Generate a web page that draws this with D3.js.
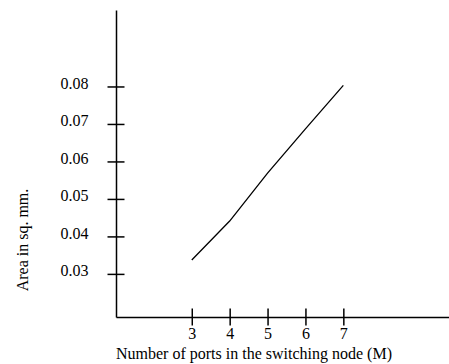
<!DOCTYPE html>
<html>
<head>
<meta charset="utf-8">
<script src="https://cdn.jsdelivr.net/npm/d3@7"></script>
<style>
  body { margin: 0; background: #fff; }
  svg { display: block; }
  svg text { font-family: "Liberation Serif", "Times New Roman", serif; }
</style>
</head>
<body>
<svg id="chart" width="449" height="364"></svg>
<script>
const ports = [3, 4, 5, 6, 7];
const area = [0.0337, 0.0441, 0.0569, 0.0687, 0.0803];
const yTicks = [0.03, 0.04, 0.05, 0.06, 0.07, 0.08];
const xTicks = [3, 4, 5, 6, 7];

const svg = d3.select("#chart");

const x = d3.scaleLinear().domain([1, 10]).range([116, 457]);
const y = d3.scaleLinear().domain([0.0185, 0.1004]).range([317, 10]);
const tick = 8.5;

// y axis
const gy = svg.append("g")
  .attr("transform", "translate(" + x(1) + ",0)")
  .call(d3.axisLeft(y).tickValues(yTicks).tickSizeInner(tick).tickSizeOuter(0)
    .tickFormat(d3.format(".2f")));
gy.selectAll("line").attr("x1", tick).attr("x2", -tick);
gy.selectAll("text")
  .attr("x", -27.5)
  .attr("dy", "0.1em")
  .style("font-size", "16px")
  .attr("fill", "#000");

// x axis
const gx = svg.append("g")
  .attr("transform", "translate(0," + y(0.0185) + ")")
  .call(d3.axisBottom(x).tickValues(xTicks).tickSizeInner(tick).tickSizeOuter(0)
    .tickFormat(d3.format("d")));
gx.selectAll("line").attr("y1", -tick).attr("y2", tick);
gx.selectAll("text")
  .attr("y", 11)
  .style("font-size", "16px")
  .attr("fill", "#000");

svg.selectAll("g").attr("font-family", null);
svg.selectAll(".domain, .tick line")
  .attr("stroke", "#000")
  .attr("stroke-width", 1.5);
svg.selectAll(".domain").attr("fill", "none");

// line
const line = d3.line()
  .x((d, i) => x(ports[i]))
  .y(d => y(d));

svg.append("path")
  .datum(area)
  .attr("d", line)
  .attr("fill", "none")
  .attr("stroke", "#000")
  .attr("stroke-width", 1.3);

// axis titles
svg.append("text")
  .attr("x", 254)
  .attr("y", 359)
  .attr("text-anchor", "middle")
  .style("font-size", "16px")
  .text("Number of ports in the switching node (M)");

svg.append("text")
  .attr("transform", "translate(28,240) rotate(-90)")
  .attr("text-anchor", "middle")
  .style("font-size", "16px")
  .text("Area in sq. mm.");
</script>
</body>
</html>
